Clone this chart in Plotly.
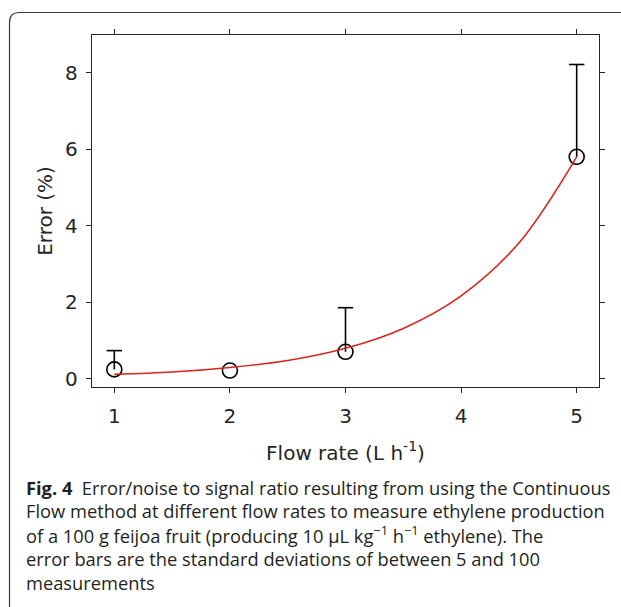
import plotly.graph_objects as go

# Measured error at each flow rate and its standard deviation (upper bar only)
flow_rate = [1, 2, 3, 5]
error_pct = [0.25, 0.22, 0.71, 5.80]
error_sd = [0.49, 0.0, 1.15, 2.41]

# Exponential fit through the measurements, sampled along the flow-rate axis
fit_x = [1.0, 1.5, 2.0, 2.5, 3.0, 3.5, 4.0, 4.5, 5.0]
fit_y = [0.12, 0.18, 0.30, 0.48, 0.80, 1.32, 2.17, 3.55, 5.80]

x_ticks = [1, 2, 3, 4, 5]
y_ticks = [0, 2, 4, 6, 8]

caption_lines = [
    "<b>Fig. 4</b>\u00a0\u00a0Error/noise to signal ratio resulting from using the Continuous",
    "Flow method at different flow rates to measure ethylene production",
    "of a 100 g feijoa fruit (producing 10 \u00b5L kg<sup>\u22121</sup> h<sup>\u22121</sup> ethylene). The",
    "error bars are the standard deviations of between 5 and 100",
    "measurements",
]

W, H = 621, 607
L, R, T, B = 92, 599, 35, 387
PW, PH = R - L, B - T


def px(x):
    return (x - L) / PW


def py(y):
    return (B - y) / PH


AX = "#262626"
AXFONT = "DejaVu Sans"

fig = go.Figure()

# error bar stems and caps
stem_x, stem_y, cap_x, cap_y = [], [], [], []
for x, y, e in zip(flow_rate, error_pct, error_sd):
    if e > 0:
        stem_x += [x, x, None]
        stem_y += [y, y + e, None]
        cap_x.append(x)
        cap_y.append(y + e)

fig.add_trace(go.Scatter(x=stem_x, y=stem_y, mode="lines",
                         line=dict(color="black", width=1.6),
                         hoverinfo="skip", showlegend=False))
fig.add_trace(go.Scatter(x=cap_x, y=cap_y, mode="markers",
                         marker=dict(symbol="line-ew", size=11,
                                     line=dict(color="black", width=1.6)),
                         hoverinfo="skip", showlegend=False))

fig.add_trace(go.Scatter(x=flow_rate, y=error_pct, mode="markers",
                         marker=dict(symbol="circle-open", size=15,
                                     color="black",
                                     line=dict(color="black", width=1.6)),
                         showlegend=False))

fig.add_trace(go.Scatter(x=fit_x, y=fit_y, mode="lines",
                         line=dict(color="#d9231c", width=1.6, shape="spline"),
                         showlegend=False))

axis_common = dict(
    showline=True, linecolor=AX, linewidth=1.4, mirror="ticks",
    ticks="outside", ticklen=5, tickwidth=1.2, tickcolor=AX,
    showgrid=False, zeroline=False, tickangle=0,
    tickfont=dict(family=AXFONT, size=20, color=AX),
)

fig.update_xaxes(range=[0.807, 5.193], tickvals=x_ticks,
                 ticklabelstandoff=6,
                 title=dict(text="Flow rate (L h<sup>-1</sup>)",
                            font=dict(family=AXFONT, size=20, color=AX),
                            standoff=18),
                 **axis_common)
fig.update_yaxes(range=[-0.21, 8.98], tickvals=y_ticks,
                 ticklabelstandoff=4,
                 title=dict(text="Error (%)",
                            font=dict(family=AXFONT, size=20, color=AX),
                            standoff=7),
                 **axis_common)

# figure frame with a rounded top-left corner
r = 10
x0, y0 = 9.5, 12.5
x1, y1 = W + 20, H + 20
path = (f"M {px(x0)},{py(y1)} L {px(x0)},{py(y0 + r)} "
        f"Q {px(x0)},{py(y0)} {px(x0 + r)},{py(y0)} L {px(x1)},{py(y0)}")
fig.add_shape(type="path", path=path, xref="paper", yref="paper",
              line=dict(color="#3a3a3a", width=1.2))

# caption below the chart
cap_left = 24
first_baseline = 493
line_gap = 23.8
for i, txt in enumerate(caption_lines):
    fig.add_annotation(
        x=px(cap_left), y=py(first_baseline + i * line_gap - 6),
        xref="paper", yref="paper", xanchor="left", yanchor="middle",
        text=txt, showarrow=False, align="left",
        font=dict(family="Open Sans", size=18.3, color="#231f20"),
    )

fig.update_layout(
    width=W, height=H,
    margin=dict(l=L, r=W - R, t=T, b=H - B),
    paper_bgcolor="white", plot_bgcolor="white",
    showlegend=False,
)

fig.write_html("out.html")
